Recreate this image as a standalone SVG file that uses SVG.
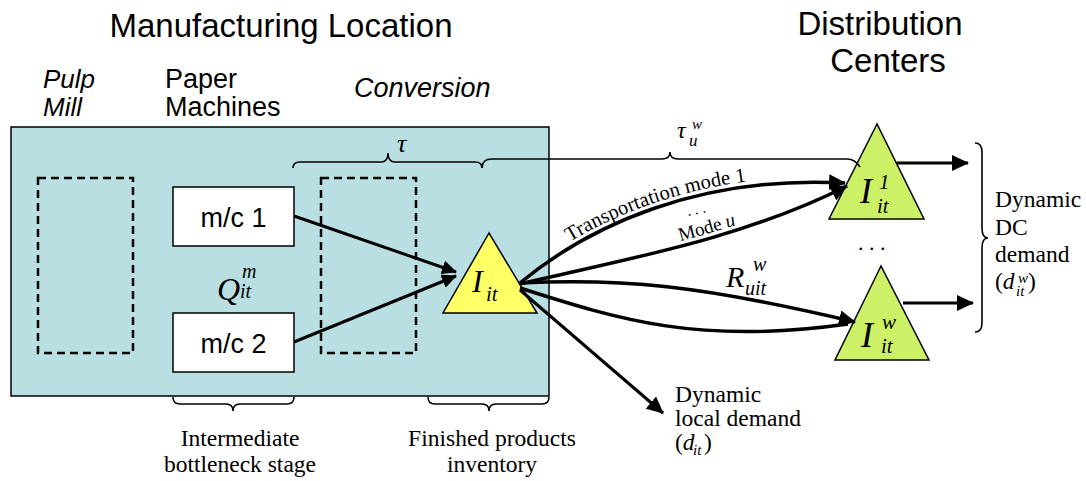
<svg xmlns="http://www.w3.org/2000/svg" width="1086" height="481" viewBox="0 0 1086 481">
<style>
.sans{font-family:"Liberation Sans",Arial,sans-serif;fill:#000}
.serif{font-family:"Liberation Serif","Times New Roman",serif;fill:#000}
.it{font-style:italic}
.cap{font-size:23.5px}
.dash{fill:none;stroke:#000;stroke-width:2.5;stroke-dasharray:8 5}
.box{fill:#fff;stroke:#000;stroke-width:1.5}
.brace{fill:none;stroke:#000;stroke-width:1.6}
.conn{fill:none;stroke:#000;stroke-width:3}
.curve{fill:none;stroke:#000;stroke-width:3.5}
</style>
<defs>
<marker id="ah" markerUnits="userSpaceOnUse" markerWidth="18" markerHeight="16" refX="16" refY="8" orient="auto">
<path d="M0,0 L17,8 L0,16 z" fill="#000"/>
</marker>
<marker id="ahs" markerUnits="userSpaceOnUse" markerWidth="16" markerHeight="14" refX="14" refY="7" orient="auto">
<path d="M0,0 L15,7 L0,14 z" fill="#000"/>
</marker>
<path id="p1" d="M 520 283 C 590 225, 700 175, 845 183"/>
<path id="pu" d="M 520 284 C 620 260, 740 240, 847 186"/>
</defs>
<rect width="1086" height="481" fill="#fff"/>

<g id="titles">
<text class="sans" x="281" y="37" font-size="33" text-anchor="middle">Manufacturing Location</text>
<text class="sans" x="880" y="35" font-size="33" text-anchor="middle">Distribution</text>
<text class="sans" x="888" y="72" font-size="33" text-anchor="middle">Centers</text>
<text class="sans it" x="43" y="88" font-size="26">Pulp</text>
<text class="sans it" x="43" y="116" font-size="26">Mill</text>
<text class="sans" x="165" y="88" font-size="27">Paper</text>
<text class="sans" x="165" y="116" font-size="27">Machines</text>
<text class="sans it" x="354" y="97" font-size="27">Conversion</text>
</g>

<g id="manufacturing-location">
<rect x="11" y="127" width="538" height="269" fill="#B9DFE3" stroke="#000" stroke-width="1.5"/>
</g>
<g id="pulp-mill"><rect class="dash" x="38" y="178" width="95" height="175"/></g>
<g id="conversion"><rect class="dash" x="321" y="178" width="95" height="175"/></g>
<g id="mc1">
<rect class="box" x="173" y="187" width="121" height="59"/>
<text class="sans" x="233.5" y="227" font-size="27" text-anchor="middle">m/c 1</text>
</g>
<g id="mc2">
<rect class="box" x="173" y="313" width="121" height="59"/>
<text class="sans" x="233.5" y="353" font-size="27" text-anchor="middle">m/c 2</text>
</g>
<g id="q-label">
<text class="serif it" x="217" y="300" font-size="32">Q</text>
<text class="serif it" x="242" y="278" font-size="20">m</text>
<text class="serif it" x="240" y="298" font-size="20">it</text>
</g>

<g id="inventory">
<polygon points="489,233 443,313 537,313" fill="#FFFF66" stroke="#000" stroke-width="1.5"/>
<text class="serif it" x="472" y="292" font-size="32">I</text>
<text class="serif it" x="486" y="301" font-size="21">it</text>
</g>
<g id="dc1">
<polygon points="877,124 829,219 924,219" fill="#CCF066" stroke="#000" stroke-width="1.5"/>
<text class="serif it" x="860" y="203" font-size="36">I</text>
<text class="serif it" x="879" y="189" font-size="21">1</text>
<text class="serif it" x="877" y="213" font-size="21">it</text>
</g>
<g id="dcw">
<polygon points="881,266 835,360 929,360" fill="#CCF066" stroke="#000" stroke-width="1.5"/>
<text class="serif it" x="861" y="347" font-size="36">I</text>
<text class="serif it" x="882" y="329" font-size="21">w</text>
<text class="serif it" x="881" y="353" font-size="21">it</text>
</g>
<text class="serif" x="858" y="250" font-size="22">. . .</text>

<g id="braces">
<path class="brace" d="M 293 168 Q 293 162 300 162 L 381 162 Q 388 162 388 153 Q 388 162 395 162 L 475 162 Q 482 162 482 168"/>
<path class="brace" d="M 482 168 Q 482 159 492 159 L 662 159 Q 670 159 670 152 Q 670 159 678 159 L 847 159 Q 855 159 860 167"/>
<path class="brace" d="M 173 397 Q 173 404 180 404 L 226 404 Q 233 404 233 411 Q 233 404 240 404 L 287 404 Q 294 404 294 397"/>
<path class="brace" d="M 428 397 Q 428 404 435 404 L 482 404 Q 489 404 489 411 Q 489 404 496 404 L 542 404 Q 549 404 549 397"/>
<path class="brace" d="M 975 143 Q 982 143 982 152 L 982 228 Q 982 238 988 238 Q 982 238 982 248 L 982 323 Q 982 332 975 332"/>
</g>

<g id="connectors">
<line class="conn" x1="294" y1="216" x2="456" y2="272" marker-end="url(#ahs)"/>
<line class="conn" x1="294" y1="342" x2="456" y2="276" marker-end="url(#ahs)"/>
<path class="curve" d="M 520 283 C 590 225, 700 175, 845 183" marker-end="url(#ah)"/>
<path class="curve" d="M 520 284 C 620 260, 740 240, 847 186" marker-end="url(#ah)"/>
<path class="curve" d="M 520 283 C 620 278, 700 285, 855 322" marker-end="url(#ah)"/>
<path class="curve" d="M 520 288 C 620 320, 700 345, 848 324"/>
<line class="conn" x1="520" y1="290" x2="663" y2="413" marker-end="url(#ah)"/>
<line class="conn" x1="897" y1="163" x2="968" y2="163" marker-end="url(#ah)"/>
<line class="conn" x1="903" y1="303" x2="973" y2="303" marker-end="url(#ah)"/>
</g>

<g id="labels">
<text class="serif it" x="397" y="152" font-size="26">τ</text>
<text class="serif it" x="677" y="138" font-size="24">τ</text>
<text class="serif it" x="692" y="129" font-size="15">w</text>
<text class="serif it" x="689" y="146" font-size="17">u</text>
<text class="serif" font-size="20.5" dy="-5"><textPath href="#p1" startOffset="64">Transportation mode 1</textPath></text>
<text class="serif" font-size="19" dy="-5"><textPath href="#pu" startOffset="166">Mode <tspan class="it">u</tspan></textPath></text>
<text class="serif" x="688" y="216" font-size="15" transform="rotate(-12 688 216)">. . .</text>
<text class="serif it" x="726" y="287" font-size="30">R</text>
<text class="serif it" x="753" y="271" font-size="20">w</text>
<text class="serif it" x="745" y="295" font-size="20">uit</text>
<text class="serif cap" x="995" y="207">Dynamic</text>
<text class="serif cap" x="995" y="235">DC</text>
<text class="serif cap" x="995" y="262">demand</text>
<text class="serif cap" x="995" y="289">(<tspan class="it">d</tspan></text>
<text class="serif it" x="1018" y="283" font-size="15">w</text>
<text class="serif it" x="1016" y="296" font-size="15">it</text>
<text class="serif cap" x="1028" y="289">)</text>
<text class="serif cap" x="675" y="402">Dynamic</text>
<text class="serif cap" x="675" y="426">local demand</text>
<text class="serif cap" x="675" y="450">(<tspan class="it">d</tspan></text>
<text class="serif it" x="693" y="455" font-size="15">it</text>
<text class="serif cap" x="704" y="450">)</text>
<text class="serif cap" x="240" y="446" text-anchor="middle">Intermediate</text>
<text class="serif cap" x="240" y="472" text-anchor="middle">bottleneck stage</text>
<text class="serif cap" x="492" y="446" text-anchor="middle">Finished products</text>
<text class="serif cap" x="492" y="472" text-anchor="middle">inventory</text>
</g>
</svg>
